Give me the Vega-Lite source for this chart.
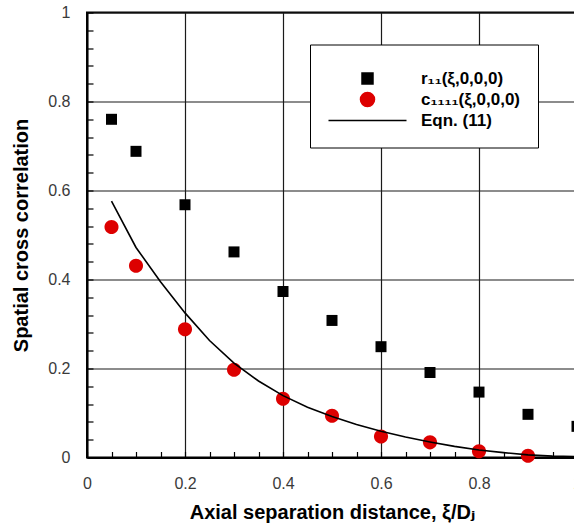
{
  "$schema": "https://vega.github.io/schema/vega-lite/v6.json",
  "width": 490,
  "height": 445,
  "padding": {"left": 11, "top": 4.5, "right": 0, "bottom": 0},
  "background": "white",
  "config": {
    "font": "Liberation Sans, DejaVu Sans, sans-serif",
    "view": {"stroke": "black", "strokeWidth": 2}
  },
  "datasets": {
    "points": [
      {"x": 0.05, "y": 0.76, "series": "r₁₁(ξ,0,0,0)"},
      {"x": 0.1, "y": 0.688, "series": "r₁₁(ξ,0,0,0)"},
      {"x": 0.2, "y": 0.568, "series": "r₁₁(ξ,0,0,0)"},
      {"x": 0.3, "y": 0.462, "series": "r₁₁(ξ,0,0,0)"},
      {"x": 0.4, "y": 0.373, "series": "r₁₁(ξ,0,0,0)"},
      {"x": 0.5, "y": 0.308, "series": "r₁₁(ξ,0,0,0)"},
      {"x": 0.6, "y": 0.249, "series": "r₁₁(ξ,0,0,0)"},
      {"x": 0.7, "y": 0.191, "series": "r₁₁(ξ,0,0,0)"},
      {"x": 0.8, "y": 0.147, "series": "r₁₁(ξ,0,0,0)"},
      {"x": 0.9, "y": 0.097, "series": "r₁₁(ξ,0,0,0)"},
      {"x": 1.0, "y": 0.07, "series": "r₁₁(ξ,0,0,0)"},
      {"x": 0.05, "y": 0.518, "series": "c₁₁₁₁(ξ,0,0,0)"},
      {"x": 0.1, "y": 0.431, "series": "c₁₁₁₁(ξ,0,0,0)"},
      {"x": 0.2, "y": 0.288, "series": "c₁₁₁₁(ξ,0,0,0)"},
      {"x": 0.3, "y": 0.197, "series": "c₁₁₁₁(ξ,0,0,0)"},
      {"x": 0.4, "y": 0.132, "series": "c₁₁₁₁(ξ,0,0,0)"},
      {"x": 0.5, "y": 0.094, "series": "c₁₁₁₁(ξ,0,0,0)"},
      {"x": 0.6, "y": 0.047, "series": "c₁₁₁₁(ξ,0,0,0)"},
      {"x": 0.7, "y": 0.034, "series": "c₁₁₁₁(ξ,0,0,0)"},
      {"x": 0.8, "y": 0.014, "series": "c₁₁₁₁(ξ,0,0,0)"},
      {"x": 0.9, "y": 0.004, "series": "c₁₁₁₁(ξ,0,0,0)"}
    ],
    "curve": [
      {"x": 0.05, "y": 0.576, "series": "Eqn. (11)"},
      {"x": 0.1, "y": 0.472, "series": "Eqn. (11)"},
      {"x": 0.15, "y": 0.395, "series": "Eqn. (11)"},
      {"x": 0.2, "y": 0.325, "series": "Eqn. (11)"},
      {"x": 0.25, "y": 0.263, "series": "Eqn. (11)"},
      {"x": 0.3, "y": 0.212, "series": "Eqn. (11)"},
      {"x": 0.35, "y": 0.172, "series": "Eqn. (11)"},
      {"x": 0.4, "y": 0.139, "series": "Eqn. (11)"},
      {"x": 0.45, "y": 0.113, "series": "Eqn. (11)"},
      {"x": 0.5, "y": 0.092, "series": "Eqn. (11)"},
      {"x": 0.55, "y": 0.074, "series": "Eqn. (11)"},
      {"x": 0.6, "y": 0.059, "series": "Eqn. (11)"},
      {"x": 0.65, "y": 0.046, "series": "Eqn. (11)"},
      {"x": 0.7, "y": 0.035, "series": "Eqn. (11)"},
      {"x": 0.75, "y": 0.025, "series": "Eqn. (11)"},
      {"x": 0.8, "y": 0.017, "series": "Eqn. (11)"},
      {"x": 0.85, "y": 0.011, "series": "Eqn. (11)"},
      {"x": 0.9, "y": 0.006, "series": "Eqn. (11)"},
      {"x": 0.95, "y": 0.003, "series": "Eqn. (11)"},
      {"x": 1.0, "y": 0.002, "series": "Eqn. (11)"}
    ]
  },
  "layer": [
    {
      "data": {"name": "points"},
      "mark": {"type": "point", "filled": true, "opacity": 1, "size": 6084, "strokeWidth": 0},
      "encoding": {
        "x": {
          "field": "x", "type": "quantitative",
          "scale": {"domain": [0, 1], "nice": false, "zero": false},
          "axis": {
            "orient": "bottom",
            "values": [0, 0.05, 0.1, 0.15, 0.2, 0.25, 0.3, 0.35, 0.4, 0.45, 0.5, 0.55, 0.6, 0.65, 0.7, 0.75, 0.8, 0.85, 0.9, 0.95, 1],
            "tickCount": 100,
            "format": "~g",
            "labelExpr": "abs(datum.value * 5 - round(datum.value * 5)) < 0.000001 ? datum.label : ''",
            "grid": true, "gridColor": "#1a1a1a", "gridWidth": 1.2,
            "gridOpacity": {"condition": {"test": "abs(datum.value * 5 - round(datum.value * 5)) < 0.000001", "value": 1}, "value": 0},
            "ticks": true, "tickSize": -6, "tickColor": "black", "tickWidth": 1.2,
            "domain": true, "domainColor": "black", "domainWidth": 2,
            "labelFontSize": 16, "labelColor": "#3a3a3a", "labelPadding": 24,
            "labelFlush": false, "labelOverlap": false, "labelBound": false,
            "title": "Axial separation distance, ξ/Dⱼ",
            "titleFontSize": 20, "titleFontWeight": "bold", "titleColor": "black",
            "titlePadding": 11
          }
        },
        "y": {
          "field": "y", "type": "quantitative",
          "scale": {"domain": [0, 1], "nice": false, "zero": false},
          "axis": {
            "orient": "left",
            "values": [0, 0.04, 0.08, 0.12, 0.16, 0.2, 0.24, 0.28, 0.32, 0.36, 0.4, 0.44, 0.48, 0.52, 0.56, 0.6, 0.64, 0.68, 0.72, 0.76, 0.8, 0.84, 0.88, 0.92, 0.96, 1],
            "tickCount": 100,
            "format": "~g",
            "labelExpr": "abs(datum.value * 5 - round(datum.value * 5)) < 0.000001 ? datum.label : ''",
            "grid": true, "gridColor": "#1a1a1a", "gridWidth": 1.2,
            "gridOpacity": {"condition": {"test": "abs(datum.value * 5 - round(datum.value * 5)) < 0.000001", "value": 1}, "value": 0},
            "ticks": true, "tickSize": -6, "tickColor": "black", "tickWidth": 1.2,
            "domain": true, "domainColor": "black", "domainWidth": 2,
            "labelFontSize": 16, "labelColor": "#3a3a3a", "labelPadding": 23,
            "labelFlush": false, "labelOverlap": false,
            "title": "Spatial cross correlation",
            "titleFontSize": 20, "titleFontWeight": "bold", "titleColor": "black",
            "titlePadding": 16
          }
        },
        "shape": {
          "field": "series", "type": "nominal",
          "scale": {
            "domain": ["r₁₁(ξ,0,0,0)", "c₁₁₁₁(ξ,0,0,0)", "Eqn. (11)"],
            "range": [
              "M-0.141,-0.141H0.141V0.141H-0.141Z",
              "M-0.18,0A0.18,0.18,0,1,1,0.18,0A0.18,0.18,0,1,1,-0.18,0Z",
              "M-1,0H1"
            ]
          },
          "legend": {
            "orient": "none", "legendX": 223, "legendY": 32,
            "title": " ", "titleFontSize": 5, "titlePadding": 2,
            "fillColor": "white", "strokeColor": "black",
            "padding": 17.5,
            "symbolSize": 6084, "clipHeight": 19, "rowPadding": 2,
            "labelOffset": 13.5, "labelFontSize": 17, "labelFontWeight": "bold",
            "labelColor": "black", "labelLimit": 300,
            "encode": {
              "legend": {"update": {"strokeWidth": {"value": 1.5}}},
              "symbols": {
                "update": {
                  "fill": {"scale": "color", "field": "value"},
                  "stroke": {"scale": "color", "field": "value"},
                  "strokeWidth": {"value": 1.5},
                  "opacity": {"value": 1}
                }
              }
            }
          }
        },
        "color": {
          "field": "series", "type": "nominal",
          "scale": {
            "domain": ["r₁₁(ξ,0,0,0)", "c₁₁₁₁(ξ,0,0,0)", "Eqn. (11)"],
            "range": ["black", "#dd0000", "black"]
          },
          "legend": {
            "orient": "none", "legendX": 223, "legendY": 32,
            "title": " ", "titleFontSize": 5, "titlePadding": 2,
            "fillColor": "white", "strokeColor": "black",
            "padding": 17.5,
            "symbolSize": 6084, "clipHeight": 19, "rowPadding": 2,
            "labelOffset": 13.5, "labelFontSize": 17, "labelFontWeight": "bold",
            "labelColor": "black", "labelLimit": 300,
            "encode": {
              "legend": {"update": {"strokeWidth": {"value": 1.5}}},
              "symbols": {
                "update": {
                  "fill": {"scale": "color", "field": "value"},
                  "stroke": {"scale": "color", "field": "value"},
                  "strokeWidth": {"value": 1.5},
                  "opacity": {"value": 1}
                }
              }
            }
          }
        }
      }
    },
    {
      "data": {"name": "curve"},
      "mark": {"type": "line", "strokeWidth": 1.6},
      "encoding": {
        "x": {"field": "x", "type": "quantitative"},
        "y": {"field": "y", "type": "quantitative"},
        "color": {"field": "series", "type": "nominal"}
      }
    }
  ]
}
